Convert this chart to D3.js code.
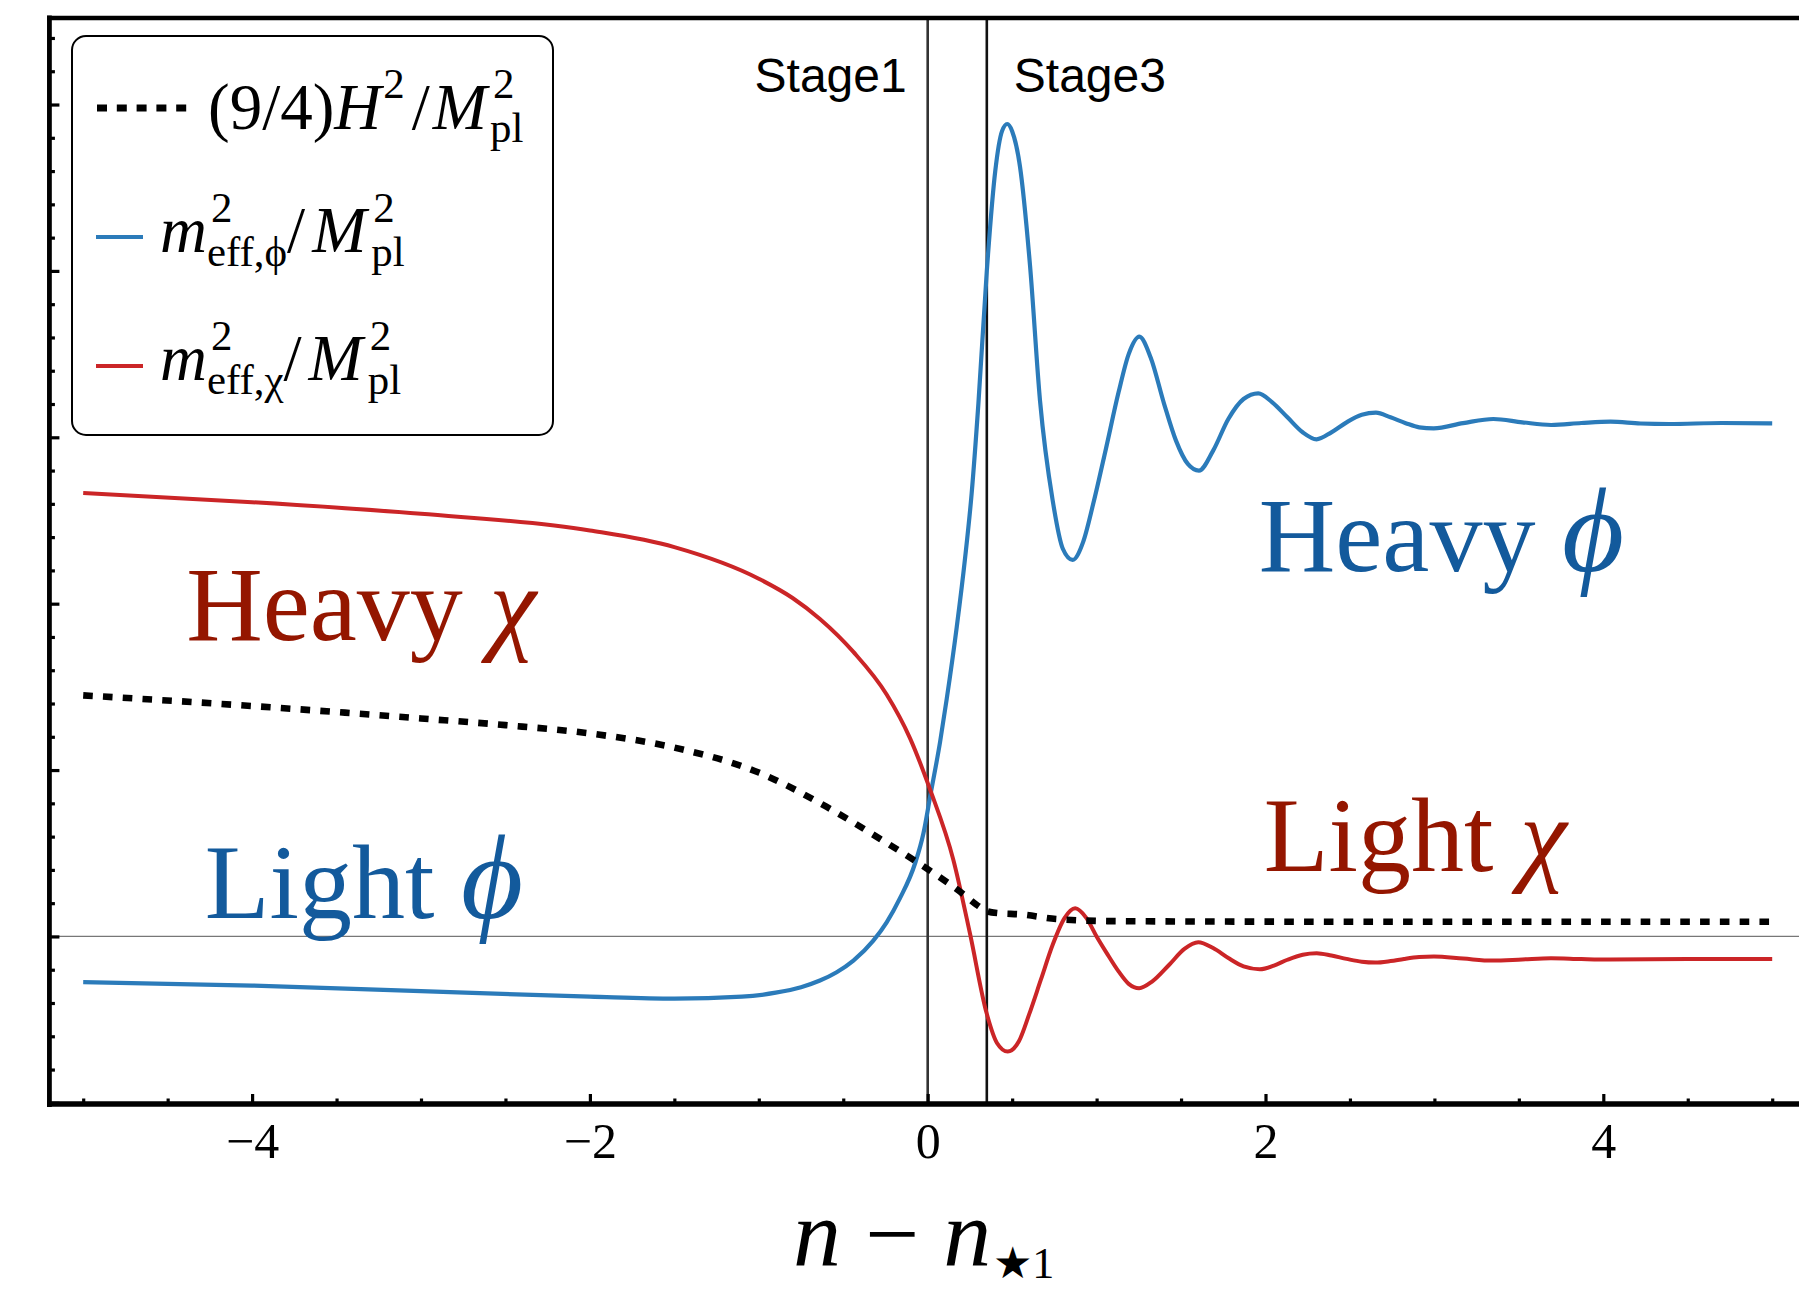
<!DOCTYPE html>
<html><head><meta charset="utf-8">
<script src="https://cdn.jsdelivr.net/npm/d3@7"></script>
<style>body{margin:0;background:#fff} svg{display:block}</style>
</head><body><svg id="c" width="1799" height="1289"></svg>
<script>
// ---------------- data ----------------
const hubbleX = [-5, -4, -3.45, -3, -2.5, -2, -1.5, -1, -0.6, -0.28, -0.075, 0.014, 0.21, 0.29, 0.35, 0.42, 0.55, 0.76, 1.1, 2, 3, 4, 5];
const hubbleY = [1.449, 1.385, 1.345, 1.31, 1.27, 1.22, 1.135, 0.985, 0.78, 0.585, 0.455, 0.395, 0.255, 0.19, 0.152, 0.14, 0.133, 0.105, 0.092, 0.089, 0.088, 0.088, 0.088];

const phiX = [-5, -4, -3, -2, -1.5, -1.1, -0.9, -0.75, -0.638, -0.539, -0.44, -0.322, -0.243, -0.164, -0.0745, -0.0252, 0.0143, 0.0735, 0.113, 0.172, 0.222, 0.26, 0.30, 0.35, 0.40, 0.44, 0.471, 0.50, 0.546, 0.606, 0.665, 0.74, 0.80, 0.858, 0.92, 0.98, 1.055, 1.13, 1.19, 1.253, 1.32, 1.40, 1.47, 1.54, 1.606, 1.69, 1.78, 1.87, 1.957, 2.04, 2.13, 2.22, 2.302, 2.39, 2.48, 2.57, 2.654, 2.74, 2.83, 2.91, 2.996, 3.17, 3.349, 3.52, 3.691, 3.87, 4.043, 4.22, 4.39, 4.7, 5.0];
const phiY = [-0.275, -0.295, -0.329, -0.362, -0.374, -0.362, -0.338, -0.305, -0.265, -0.215, -0.145, -0.025, 0.085, 0.23, 0.44, 0.62, 0.84, 1.17, 1.43, 1.86, 2.28, 2.66, 3.2, 4.0, 4.6, 4.84, 4.883, 4.84, 4.63, 4.03, 3.22, 2.62, 2.33, 2.263, 2.37, 2.60, 2.93, 3.27, 3.50, 3.605, 3.48, 3.20, 2.98, 2.84, 2.80, 2.92, 3.11, 3.23, 3.264, 3.21, 3.12, 3.03, 2.988, 3.03, 3.09, 3.135, 3.148, 3.12, 3.085, 3.06, 3.054, 3.085, 3.11, 3.09, 3.074, 3.086, 3.094, 3.083, 3.08, 3.086, 3.084];

const chiX = [-5, -4, -3, -2, -1.5, -1, -0.8, -0.638, -0.44, -0.243, -0.105, 0.014, 0.152, 0.25, 0.349, 0.41, 0.474, 0.54, 0.60, 0.67, 0.74, 0.81, 0.873, 0.94, 1.00, 1.06, 1.13, 1.19, 1.252, 1.33, 1.43, 1.52, 1.602, 1.69, 1.78, 1.87, 1.966, 2.05, 2.13, 2.22, 2.303, 2.39, 2.48, 2.57, 2.65, 2.74, 2.82, 2.91, 2.997, 3.17, 3.344, 3.52, 3.69, 3.87, 4.04, 4.5, 5.0];
const chiY = [2.665, 2.61, 2.54, 2.44, 2.34, 2.15, 2.034, 1.908, 1.71, 1.454, 1.192, 0.883, 0.46, 0.019, -0.462, -0.64, -0.692, -0.63, -0.47, -0.26, -0.05, 0.11, 0.169, 0.11, 0.0, -0.10, -0.21, -0.285, -0.311, -0.27, -0.17, -0.075, -0.035, -0.07, -0.13, -0.18, -0.197, -0.175, -0.14, -0.11, -0.101, -0.115, -0.135, -0.152, -0.157, -0.148, -0.135, -0.124, -0.121, -0.133, -0.145, -0.138, -0.131, -0.136, -0.139, -0.135, -0.136];

const stageX = [0, 0.35];
const stageLabels = ["Stage1", "Stage3"];
const xMajorTicks = [-4, -2, 0, 2, 4];
const xMinorTicks = [-5, -4.5, -3.5, -3, -2.5, -1.5, -1, -0.5, 0.5, 1, 1.5, 2.5, 3, 3.5, 4.5, 5];
const yMajorTicks = [-1, 0, 1, 2, 3, 4, 5];
const yMinorTicks = [-0.8, -0.6, -0.4, -0.2, 0.2, 0.4, 0.6, 0.8, 1.2, 1.4, 1.6, 1.8, 2.2, 2.4, 2.6, 2.8, 3.2, 3.4, 3.6, 3.8, 4.2, 4.4, 4.6, 4.8, 5.2, 5.4];
const regionWords = ["Heavy ", "Light ", "Heavy ", "Light "];
const regionSymbols = ["\u03C7", "\u03D5", "\u03D5", "\u03C7"];

// ---------------- drawing ----------------
const svg = d3.select("#c");
const serif = "'Liberation Serif','Times New Roman',Times,serif";
const sans = "'Liberation Sans',Arial,Helvetica,sans-serif";
const BLUE = "#2b7bba", RED = "#cb2527", DBLUE = "#135a9c", DRED = "#941600";

const x = d3.scaleLinear().domain([-5.2, 5.2]).range([927.7 - 5.2 * 168.9, 927.7 + 5.2 * 168.9]);
const y = d3.scaleLinear().domain([-1.007, 5.52]).range([1104, 18]);
const [x0, x1] = x.range();
const [yb, yt] = y.range();

// zero line
svg.append("line").attr("x1", x0).attr("x2", x1).attr("y1", y(0)).attr("y2", y(0))
  .attr("stroke", "#777").attr("stroke-width", 1.3);

// stage lines
svg.selectAll("line.stage").data(stageX).join("line").attr("class", "stage")
  .attr("x1", d => x(d)).attr("x2", d => x(d)).attr("y1", yt).attr("y2", yb)
  .attr("stroke", (d, i) => i === 0 ? "#333" : "#111").attr("stroke-width", 2.6);

const line = d3.line().x(d => x(d[0])).y(d => y(d[1])).curve(d3.curveMonotoneX);
const zip = (a, b) => a.map((v, i) => [v, b[i]]);

svg.append("path").attr("d", line(zip(phiX, phiY))).attr("fill", "none")
  .attr("stroke", BLUE).attr("stroke-width", 4.2).attr("stroke-linejoin", "round");
svg.append("path").attr("d", line(zip(chiX, chiY))).attr("fill", "none")
  .attr("stroke", RED).attr("stroke-width", 4.0).attr("stroke-linejoin", "round");
svg.append("path").attr("d", line(zip(hubbleX, hubbleY))).attr("fill", "none")
  .attr("stroke", "#000").attr("stroke-width", 6.6).attr("stroke-dasharray", "9.6 10.2");

// stage labels
svg.selectAll("text.stage").data(stageLabels).join("text").attr("class", "stage")
  .attr("x", (d, i) => i === 0 ? x(stageX[0]) - 21 : x(stageX[1]) + 27)
  .attr("y", 92)
  .attr("text-anchor", (d, i) => i === 0 ? "end" : "start")
  .attr("font-family", sans).attr("font-size", 48).attr("fill", "#000").text(d => d);

// axes (ticks inward)
function styleAxis(g) {
  g.select(".domain").remove();
  g.selectAll(".tick line").attr("stroke", "#000").attr("stroke-width", 3.2);
}
svg.append("g").attr("transform", `translate(0,${yb})`)
  .call(d3.axisBottom(x).tickValues(xMajorTicks).tickSize(-10).tickPadding(18)
    .tickFormat(d => d < 0 ? "\u2212" + Math.abs(d) : String(d)))
  .call(styleAxis)
  .call(g => g.selectAll("text").attr("font-family", serif).attr("font-size", 50).attr("fill", "#000"));
svg.append("g").attr("transform", `translate(0,${yb})`)
  .call(d3.axisBottom(x).tickValues(xMinorTicks).tickSize(-5.5).tickFormat(""))
  .call(styleAxis);
svg.append("g").attr("transform", `translate(${x0},0)`)
  .call(d3.axisLeft(y).tickValues(yMajorTicks).tickSize(-10).tickFormat(""))
  .call(styleAxis);
svg.append("g").attr("transform", `translate(${x0},0)`)
  .call(d3.axisLeft(y).tickValues(yMinorTicks).tickSize(-5.5).tickFormat(""))
  .call(styleAxis);

// frame
svg.append("line").attr("x1", x0).attr("x2", x0).attr("y1", yt - 2.5).attr("y2", yb + 3).attr("stroke", "#000").attr("stroke-width", 4.8);
svg.append("line").attr("x1", x0 - 2.4).attr("x2", x1).attr("y1", yt).attr("y2", yt).attr("stroke", "#000").attr("stroke-width", 4.6);
svg.append("line").attr("x1", x0 - 2.4).attr("x2", x1).attr("y1", yb).attr("y2", yb).attr("stroke", "#000").attr("stroke-width", 5.6);
svg.append("line").attr("x1", x1).attr("x2", x1).attr("y1", yt).attr("y2", yb).attr("stroke", "#000").attr("stroke-width", 4.6);

// rich text helper (sequential pieces; arrays are stacked sup/sub pairs)
function rich(parent, x0, y0, F, items, color, ratio) {
  const g = parent.append("g").attr("font-family", serif).attr("fill", color || "#000");
  let cx = x0;
  items.forEach(it => {
    const parts = Array.isArray(it) ? it : [it];
    let w = 0;
    parts.forEach(p => {
      const size = p.s ? F * (ratio || 0.67) : F;
      const t = g.append("text").attr("x", cx + (p.dx || 0)).attr("y", y0 - (p.up || 0) * F)
        .attr("font-size", size).attr("font-style", p.it ? "italic" : "normal").text(p.t);
      w = Math.max(w, t.node().getComputedTextLength() + (p.dx || 0));
    });
    cx += w + (parts[0].gap || 0);
  });
  return { g, width: cx - x0 };
}

// legend
const lg = svg.append("g");
lg.append("rect").attr("x", 72).attr("y", 36).attr("width", 481).attr("height", 399)
  .attr("rx", 14).attr("fill", "#fff").attr("stroke", "#000").attr("stroke-width", 2);
lg.append("line").attr("x1", 97).attr("x2", 187).attr("y1", 108).attr("y2", 108)
  .attr("stroke", "#000").attr("stroke-width", 7).attr("stroke-dasharray", "10 9.8");
lg.append("line").attr("x1", 96).attr("x2", 143).attr("y1", 237).attr("y2", 237).attr("stroke", BLUE).attr("stroke-width", 4);
lg.append("line").attr("x1", 96).attr("x2", 143).attr("y1", 366).attr("y2", 366).attr("stroke", RED).attr("stroke-width", 4);
rich(lg, 208, 128.5, 65, [
  { t: "(9/4)" }, { t: "H", it: 1 }, { t: "2", s: 1, up: 0.47, dx: 2, gap: 7 }, { t: "/", gap: 3 },
  { t: "M", it: 1 }, [{ t: "2", s: 1, up: 0.47, dx: 6 }, { t: "pl", s: 1, up: -0.2, dx: 3 }]
], "#000", 0.66);
rich(lg, 160, 252, 65, [
  { t: "m", it: 1 }, [{ t: "2", s: 1, up: 0.46, dx: 4 }, { t: "eff,\u03D5", s: 1, up: -0.22, gap: 4 }], { t: "/", gap: 7 },
  { t: "M", it: 1 }, [{ t: "2", s: 1, up: 0.46, dx: 7 }, { t: "pl", s: 1, up: -0.22, dx: 5 }]
], "#000", 0.66);
rich(lg, 160, 380, 65, [
  { t: "m", it: 1 }, [{ t: "2", s: 1, up: 0.46, dx: 4 }, { t: "eff,\u03C7", s: 1, up: -0.22, gap: 4 }], { t: "/", gap: 7 },
  { t: "M", it: 1 }, [{ t: "2", s: 1, up: 0.46, dx: 7 }, { t: "pl", s: 1, up: -0.22, dx: 5 }]
], "#000", 0.66);

// region labels
const regionPos = [[-4.39, 1.78], [-4.28, 0.11], [1.96, 2.196], [1.99, 0.395]];
const regionColor = [DRED, DBLUE, DBLUE, DRED];
regionWords.forEach((w, i) => {
  const t = svg.append("text").attr("x", x(regionPos[i][0])).attr("y", y(regionPos[i][1]))
    .attr("font-family", serif).attr("font-size", 106).attr("fill", regionColor[i]);
  t.append("tspan").text(w);
  t.append("tspan").attr("font-style", "italic")
    .attr("font-size", regionSymbols[i] === "\u03D5" ? 120 : 106).text(regionSymbols[i]);
});

// x-axis title
const title = rich(svg, 0, 1266, 96, [
  { t: "n", it: 1 }, { t: "\u00A0\u2212\u00A0" }, { t: "n", it: 1, gap: 2 }, { t: "\u2605", s: 1, up: -0.12 }, { t: "1", s: 1, up: -0.12 }
], "#000", 0.46);
title.g.attr("transform", `translate(${x(0) - title.width / 2 - 4},0)`);
</script></body></html>
